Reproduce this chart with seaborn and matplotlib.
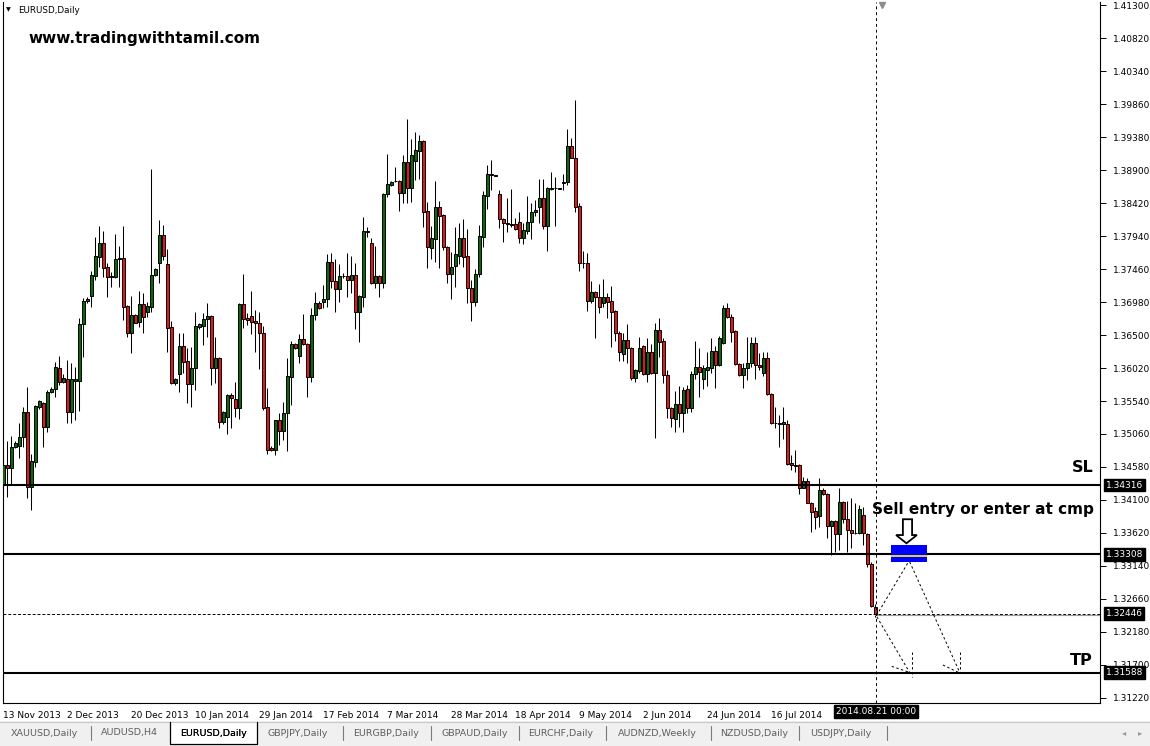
import matplotlib
matplotlib.use('Agg')
import matplotlib.pyplot as plt
from matplotlib.patches import Rectangle, Polygon
import numpy as np
import pandas as pd
import seaborn as sns

# daily EURUSD bars (with the small sunday bars), 13 Nov 2013 .. 21 Aug 2014
OPENS = [
    1.3432, 1.3461, 1.3457, 1.3487, 1.3489, 1.3502, 1.3538, 1.3429, 1.3465, 1.3545,
    1.3551, 1.3516, 1.3567, 1.3572, 1.3602, 1.3582, 1.3586, 1.3538, 1.3583, 1.3583,
    1.3666, 1.3700, 1.3707, 1.3736, 1.3764, 1.3784, 1.3749, 1.3734, 1.3734, 1.3761,
    1.3762, 1.3692, 1.3653, 1.3679, 1.3669, 1.3695, 1.3684, 1.3691, 1.3737, 1.3755,
    1.3796, 1.3753, 1.3662, 1.3580, 1.3593, 1.3634, 1.3612, 1.3579, 1.3602, 1.3662,
    1.3663, 1.3673, 1.3678, 1.3602, 1.3617, 1.3523, 1.3531, 1.3563, 1.3557, 1.3544,
    1.3695, 1.3675, 1.3678, 1.3670, 1.3668, 1.3653, 1.3545, 1.3486, 1.3483, 1.3526,
    1.3510, 1.3537, 1.3589, 1.3637, 1.3620, 1.3644, 1.3637, 1.3589, 1.3679, 1.3697,
    1.3698, 1.3702, 1.3756, 1.3728, 1.3717, 1.3736, 1.3736, 1.3730, 1.3737, 1.3684,
    1.3705, 1.3801, 1.3784, 1.3726, 1.3736, 1.3726, 1.3855, 1.3868, 1.3874, 1.3874,
    1.3857, 1.3902, 1.3864, 1.3903, 1.3918, 1.3932, 1.3830, 1.3777, 1.3790, 1.3836,
    1.3825, 1.3778, 1.3739, 1.3750, 1.3765, 1.3791, 1.3765, 1.3718, 1.3698, 1.3739,
    1.3793, 1.3852, 1.3883, 1.3883, 1.3855, 1.3819, 1.3813, 1.3812, 1.3812, 1.3815,
    1.3791, 1.3801, 1.3815, 1.3829, 1.3836, 1.3849, 1.3809, 1.3863, 1.3864, 1.3864,
    1.3871, 1.3873, 1.3925, 1.3908, 1.3838, 1.3755, 1.3755, 1.3700, 1.3713, 1.3705,
    1.3697, 1.3705, 1.3700, 1.3685, 1.3653, 1.3622, 1.3643, 1.3631, 1.3588, 1.3598,
    1.3634, 1.3593, 1.3625, 1.3595, 1.3657, 1.3641, 1.3592, 1.3544, 1.3528, 1.3550,
    1.3537, 1.3572, 1.3544, 1.3593, 1.3604, 1.3586, 1.3599, 1.3602, 1.3627, 1.3606,
    1.3638, 1.3689, 1.3676, 1.3656, 1.3608, 1.3592, 1.3602, 1.3609, 1.3638, 1.3606,
    1.3595, 1.3617, 1.3564, 1.3522, 1.3522, 1.3521, 1.3521, 1.3464, 1.3461, 1.3461,
    1.3428, 1.3438, 1.3406, 1.3394, 1.3387, 1.3425, 1.3419, 1.3372, 1.3380, 1.3361,
    1.3407, 1.3383, 1.3366, 1.3362, 1.3362, 1.3388, 1.3361, 1.3317, 1.3255,
]
HIGHS = [
    1.3468, 1.3496, 1.3503, 1.3496, 1.3522, 1.3545, 1.3574, 1.3477, 1.3548, 1.3555,
    1.3553, 1.3570, 1.3575, 1.3611, 1.3620, 1.3593, 1.3614, 1.3609, 1.3604, 1.3675,
    1.3704, 1.3705, 1.3743, 1.3793, 1.3809, 1.3801, 1.3755, 1.3742, 1.3797, 1.3780,
    1.3809, 1.3693, 1.3707, 1.3680, 1.3714, 1.3711, 1.3698, 1.3891, 1.3748, 1.3817,
    1.3810, 1.3775, 1.3670, 1.3587, 1.3653, 1.3653, 1.3631, 1.3633, 1.3684, 1.3668,
    1.3682, 1.3697, 1.3679, 1.3647, 1.3618, 1.3540, 1.3564, 1.3566, 1.3582, 1.3696,
    1.3739, 1.3682, 1.3714, 1.3686, 1.3684, 1.3663, 1.3573, 1.3489, 1.3527, 1.3537,
    1.3553, 1.3617, 1.3641, 1.3638, 1.3652, 1.3681, 1.3638, 1.3689, 1.3713, 1.3699,
    1.3723, 1.3768, 1.3769, 1.3761, 1.3753, 1.3740, 1.3769, 1.3765, 1.3755, 1.3708,
    1.3822, 1.3807, 1.3791, 1.3780, 1.3737, 1.3856, 1.3913, 1.3874, 1.3894, 1.3876,
    1.3912, 1.3964, 1.3935, 1.3945, 1.3941, 1.3933, 1.3843, 1.3809, 1.3874, 1.3845,
    1.3826, 1.3779, 1.3771, 1.3807, 1.3813, 1.3819, 1.3804, 1.3730, 1.3746, 1.3810,
    1.3860, 1.3897, 1.3905, 1.3883, 1.3861, 1.3820, 1.3849, 1.3862, 1.3820, 1.3829,
    1.3813, 1.3852, 1.3842, 1.3846, 1.3877, 1.3877, 1.3865, 1.3887, 1.3880, 1.3864,
    1.3884, 1.3950, 1.3937, 1.3992, 1.3842, 1.3772, 1.3769, 1.3728, 1.3714, 1.3724,
    1.3732, 1.3711, 1.3721, 1.3686, 1.3656, 1.3653, 1.3666, 1.3632, 1.3600, 1.3647,
    1.3635, 1.3646, 1.3637, 1.3668, 1.3675, 1.3646, 1.3599, 1.3545, 1.3569, 1.3576,
    1.3574, 1.3577, 1.3598, 1.3641, 1.3631, 1.3606, 1.3625, 1.3646, 1.3634, 1.3649,
    1.3694, 1.3697, 1.3681, 1.3657, 1.3609, 1.3609, 1.3647, 1.3647, 1.3647, 1.3624,
    1.3625, 1.3625, 1.3565, 1.3545, 1.3534, 1.3545, 1.3526, 1.3475, 1.3483, 1.3462,
    1.3444, 1.3442, 1.3407, 1.3400, 1.3442, 1.3428, 1.3420, 1.3381, 1.3381, 1.3428,
    1.3409, 1.3409, 1.3413, 1.3406, 1.3403, 1.3400, 1.3362, 1.3320, 1.3258,
]
LOWS = [
    1.3425, 1.3414, 1.3432, 1.3486, 1.3471, 1.3487, 1.3413, 1.3396, 1.3458, 1.3542,
    1.3487, 1.3509, 1.3566, 1.3560, 1.3577, 1.3580, 1.3522, 1.3522, 1.3526, 1.3540,
    1.3618, 1.3697, 1.3691, 1.3730, 1.3749, 1.3734, 1.3705, 1.3720, 1.3733, 1.3720,
    1.3672, 1.3647, 1.3624, 1.3668, 1.3662, 1.3653, 1.3676, 1.3684, 1.3736, 1.3726,
    1.3759, 1.3625, 1.3579, 1.3578, 1.3567, 1.3595, 1.3551, 1.3545, 1.3570, 1.3659,
    1.3636, 1.3647, 1.3577, 1.3580, 1.3515, 1.3521, 1.3506, 1.3515, 1.3531, 1.3528,
    1.3660, 1.3665, 1.3652, 1.3625, 1.3601, 1.3541, 1.3477, 1.3481, 1.3476, 1.3490,
    1.3497, 1.3481, 1.3548, 1.3630, 1.3609, 1.3636, 1.3560, 1.3582, 1.3672, 1.3688,
    1.3689, 1.3691, 1.3718, 1.3684, 1.3698, 1.3733, 1.3705, 1.3711, 1.3659, 1.3640,
    1.3691, 1.3793, 1.3724, 1.3718, 1.3705, 1.3718, 1.3851, 1.3867, 1.3873, 1.3830,
    1.3842, 1.3842, 1.3844, 1.3876, 1.3877, 1.3807, 1.3748, 1.3761, 1.3756, 1.3748,
    1.3774, 1.3726, 1.3702, 1.3720, 1.3753, 1.3749, 1.3697, 1.3670, 1.3692, 1.3734,
    1.3778, 1.3833, 1.3861, 1.3882, 1.3806, 1.3786, 1.3800, 1.3807, 1.3803, 1.3784,
    1.3782, 1.3797, 1.3790, 1.3823, 1.3813, 1.3804, 1.3772, 1.3861, 1.3809, 1.3863,
    1.3861, 1.3868, 1.3907, 1.3829, 1.3743, 1.3748, 1.3685, 1.3697, 1.3646, 1.3682,
    1.3691, 1.3675, 1.3633, 1.3641, 1.3612, 1.3612, 1.3609, 1.3585, 1.3582, 1.3595,
    1.3592, 1.3582, 1.3593, 1.3500, 1.3618, 1.3580, 1.3529, 1.3516, 1.3509, 1.3516,
    1.3509, 1.3537, 1.3538, 1.3586, 1.3560, 1.3572, 1.3576, 1.3595, 1.3573, 1.3605,
    1.3637, 1.3675, 1.3640, 1.3606, 1.3590, 1.3573, 1.3585, 1.3604, 1.3586, 1.3599,
    1.3590, 1.3563, 1.3521, 1.3515, 1.3487, 1.3499, 1.3461, 1.3454, 1.3451, 1.3419,
    1.3427, 1.3405, 1.3364, 1.3368, 1.3370, 1.3417, 1.3355, 1.3330, 1.3334, 1.3337,
    1.3377, 1.3334, 1.3340, 1.3360, 1.3360, 1.3345, 1.3313, 1.3255, 1.3240,
]
CLOSES = [
    1.3461, 1.3457, 1.3487, 1.3493, 1.3502, 1.3538, 1.3429, 1.3467, 1.3547, 1.3554,
    1.3516, 1.3567, 1.3572, 1.3604, 1.3582, 1.3588, 1.3538, 1.3586, 1.3586, 1.3666,
    1.3700, 1.3702, 1.3737, 1.3765, 1.3784, 1.3748, 1.3734, 1.3736, 1.3761, 1.3762,
    1.3691, 1.3653, 1.3679, 1.3668, 1.3695, 1.3676, 1.3692, 1.3737, 1.3746, 1.3796,
    1.3765, 1.3660, 1.3580, 1.3586, 1.3634, 1.3611, 1.3579, 1.3602, 1.3663, 1.3666,
    1.3673, 1.3678, 1.3602, 1.3617, 1.3523, 1.3538, 1.3563, 1.3558, 1.3544, 1.3695,
    1.3673, 1.3672, 1.3669, 1.3667, 1.3653, 1.3544, 1.3483, 1.3482, 1.3526, 1.3510,
    1.3537, 1.3590, 1.3637, 1.3631, 1.3644, 1.3637, 1.3589, 1.3679, 1.3697, 1.3689,
    1.3702, 1.3756, 1.3728, 1.3717, 1.3736, 1.3736, 1.3730, 1.3737, 1.3684, 1.3707,
    1.3801, 1.3800, 1.3726, 1.3736, 1.3726, 1.3855, 1.3870, 1.3873, 1.3874, 1.3857,
    1.3902, 1.3864, 1.3912, 1.3919, 1.3932, 1.3829, 1.3778, 1.3791, 1.3836, 1.3823,
    1.3778, 1.3739, 1.3749, 1.3768, 1.3791, 1.3764, 1.3718, 1.3698, 1.3739, 1.3794,
    1.3854, 1.3884, 1.3884, 1.3882, 1.3819, 1.3813, 1.3812, 1.3810, 1.3804, 1.3791,
    1.3803, 1.3815, 1.3829, 1.3832, 1.3849, 1.3809, 1.3864, 1.3864, 1.3864, 1.3863,
    1.3873, 1.3925, 1.3908, 1.3836, 1.3755, 1.3755, 1.3700, 1.3713, 1.3705, 1.3691,
    1.3705, 1.3698, 1.3684, 1.3653, 1.3625, 1.3643, 1.3631, 1.3588, 1.3599, 1.3631,
    1.3593, 1.3625, 1.3595, 1.3657, 1.3640, 1.3592, 1.3544, 1.3529, 1.3550, 1.3537,
    1.3570, 1.3544, 1.3593, 1.3604, 1.3596, 1.3602, 1.3604, 1.3627, 1.3606, 1.3646,
    1.3689, 1.3676, 1.3654, 1.3608, 1.3592, 1.3602, 1.3609, 1.3638, 1.3606, 1.3604,
    1.3617, 1.3564, 1.3522, 1.3522, 1.3521, 1.3523, 1.3462, 1.3461, 1.3460, 1.3428,
    1.3438, 1.3406, 1.3393, 1.3385, 1.3425, 1.3419, 1.3372, 1.3380, 1.3361, 1.3407,
    1.3383, 1.3366, 1.3362, 1.3362, 1.3397, 1.3362, 1.3317, 1.3256, 1.32446,
]

DATE_LABELS = ['13 Nov 2013', '2 Dec 2013', '20 Dec 2013', '10 Jan 2014', '29 Jan 2014',
               '17 Feb 2014', '7 Mar 2014', '28 Mar 2014', '18 Apr 2014', '9 May 2014',
               '2 Jun 2014', '24 Jun 2014', '16 Jul 2014']
PRICE_TICKS = [1.31220, 1.31700, 1.32180, 1.32660, 1.33140, 1.33620, 1.34100, 1.34580,
               1.35060, 1.35540, 1.36020, 1.36500, 1.36980, 1.37460, 1.37940, 1.38420,
               1.38900, 1.39380, 1.39860, 1.40340, 1.40820, 1.41300]
SL_PRICE = 1.34316
ENTRY_PRICE = 1.33308
BID_PRICE = 1.32446
TP_PRICE = 1.31588
CURSOR_LABEL = '2014.08.21 00:00'

TABS = ['XAUUSD,Daily', 'AUDUSD,H4', 'EURUSD,Daily', 'GBPJPY,Daily', 'EURGBP,Daily',
        'GBPAUD,Daily', 'EURCHF,Daily', 'AUDNZD,Weekly', 'NZDUSD,Daily', 'USDJPY,Daily']
ACTIVE_TAB = 'EURUSD,Daily'

BULL = '#0a6a0a'
BEAR = '#e8141a'
W, H = 1150, 746


def draw_candles(ax, df):
    '''wicks plus bodies'''
    up = df['close'] >= df['open']
    colors = np.where(up, BULL, BEAR)
    ax.vlines(df['bar'], df['low'], df['high'], color='black', lw=0.75, zorder=2)
    body_lo = df[['open', 'close']].min(axis=1)
    body_h = (df['close'] - df['open']).abs()
    ax.bar(df['bar'], body_h, bottom=body_lo, width=0.72, color=colors,
           edgecolor='black', linewidth=0.7, zorder=3)


def draw_levels(ax, last_bar):
    '''SL / entry / TP lines, bid line, cursor and price boxes'''
    for p in (SL_PRICE, ENTRY_PRICE, TP_PRICE):
        ax.axhline(p, color='black', lw=1.5, zorder=4)
    ax.axhline(BID_PRICE, color='black', lw=0.7, ls=(0, (3, 2)), zorder=4)
    ax.plot([last_bar, 280], [BID_PRICE - 0.00018] * 2, color='#9a9a9a', lw=0.8, zorder=4)
    ax.axvline(last_bar + 0.2, color='black', lw=0.7, ls=(0, (3, 3)), zorder=4)
    ax.plot([last_bar + 1.6], [1.4130], marker='v', color='#8c8c8c', ms=4, clip_on=False)

    for p in (SL_PRICE, ENTRY_PRICE, BID_PRICE, TP_PRICE):
        ax.annotate(f'{p:.5f}', xy=(1.0, p), xycoords=('axes fraction', 'data'),
                    xytext=(4, 0), textcoords='offset points', ha='left', va='center',
                    color='white', fontsize=6.5, zorder=6,
                    bbox=dict(boxstyle='square,pad=0.2', fc='black', ec='black'))
    ax.annotate(CURSOR_LABEL, xy=(last_bar + 0.2, 0), xycoords=('data', 'axes fraction'),
                xytext=(0, -6), textcoords='offset points', ha='center', va='center',
                color='white', fontsize=6.5,
                bbox=dict(boxstyle='square,pad=0.25', fc='black', ec='black'))


def draw_trade_sketch(ax, last_bar):
    '''blue entry box, hollow arrow and dashed projections'''
    ax.add_patch(Rectangle((221.9, 1.3320), 9.0, 0.00248, fc='#0000ff', ec='none', zorder=5))
    ax.plot([221.9, 230.9], [1.3329, 1.3329], color='#ffff00', lw=1.2, zorder=6)
    arrow = [(224.9, 1.3382), (227.2, 1.3382), (227.2, 1.3359), (228.4, 1.3359),
             (225.8, 1.3347), (223.2, 1.3359), (224.9, 1.3359)]
    ax.add_patch(Polygon(arrow, closed=True, fc='white', ec='black', lw=1.3, zorder=6))
    dash = dict(color='black', lw=0.7, ls=(0, (2.5, 2.5)), zorder=5)
    ax.plot([last_bar + 0.3, 226.3], [1.3242, 1.3320], **dash)
    ax.plot([226.6, 239.2], [1.3320, 1.3158], **dash)
    ax.plot([last_bar + 0.4, 226.7], [1.3240, 1.3158], **dash)
    # little arrow heads at the ends
    ax.plot([222.1, 226.7], [1.3168, 1.3159], **dash)
    ax.plot([227.2, 227.2], [1.3189, 1.3152], **dash)
    ax.plot([234.9, 239.2], [1.3170, 1.3158], **dash)
    ax.plot([239.2, 239.2], [1.3189, 1.3158], **dash)


def draw_tabs(fig):
    '''MT4 style chart tabs at the bottom'''
    tab_ax = fig.add_axes([0, 0, 1, 25 / H])
    tab_ax.set_xlim(0, W)
    tab_ax.set_ylim(746, 721)
    tab_ax.axis('off')
    tab_ax.add_patch(Rectangle((0, 721), W, 25, fc='#f0f0f0', ec='none'))
    tab_ax.plot([0, W], [721.5, 721.5], color='#c8c8c8', lw=0.8)
    left = [11, 101, 180, 267, 353, 441, 528, 618, 720, 810]
    seps = [91, 343, 431, 519, 606, 711, 799, 887]
    for name, x in zip(TABS, left):
        active = name == ACTIVE_TAB
        tab_ax.text(x, 733, name, fontsize=6.8, va='center', ha='left',
                    color='black' if active else '#5f5f5f')
    for x in seps:
        tab_ax.plot([x, x], [726, 740], color='#7a7a7a', lw=0.8)
    tab_ax.add_patch(Rectangle((170, 722), 87, 22, fc='white', ec='none'))
    tab_ax.plot([170, 170, 257, 257], [722, 744, 744, 722], color='black', lw=0.9)
    tab_ax.text(180, 733, ACTIVE_TAB, fontsize=6.8, va='center', ha='left', color='black')
    tab_ax.text(1124, 733, '\u25c2', fontsize=6, va='center', ha='center', color='#9a9a9a')
    tab_ax.text(1140, 733, '\u25b8', fontsize=6, va='center', ha='center', color='#9a9a9a')


def main():
    '''main'''
    sns.set_style('white')
    plt.rcParams['font.family'] = ['DejaVu Sans']
    plt.rcParams['text.color'] = 'black'

    price_df = pd.DataFrame({'open': OPENS, 'high': HIGHS, 'low': LOWS, 'close': CLOSES})
    price_df['bar'] = np.arange(len(price_df))
    last_bar = price_df['bar'].iloc[-1]

    fig = plt.figure(figsize=(W / 100, H / 100), dpi=100)
    ax = fig.add_axes([3 / W, 43 / H, 1097 / W, 701 / H])
    ax.set_xlim(-0.075, 274.18)
    ax.set_ylim(1.31147, 1.41344)

    draw_candles(ax, price_df)
    draw_levels(ax, last_bar)
    draw_trade_sketch(ax, last_bar)

    # axes in the terminal look
    ax.yaxis.tick_right()
    ax.set_yticks(PRICE_TICKS)
    ax.set_yticklabels([f'{p:.5f}' for p in PRICE_TICKS])
    ax.set_xticks(np.arange(len(DATE_LABELS)) * 16)
    ax.set_xticklabels(DATE_LABELS, ha='left')
    ax.tick_params(axis='y', direction='out', length=4, width=0.7, pad=5, labelsize=6.5,
                   colors='black')
    ax.tick_params(axis='x', direction='out', length=4, width=0.7, pad=2, labelsize=6.5,
                   colors='black')
    for side in ('left', 'right', 'bottom'):
        ax.spines[side].set_color('black')
        ax.spines[side].set_linewidth(0.8)
    ax.spines['top'].set_visible(False)

    ax.text(3.6, 1.41225, 'EURUSD,Daily', fontsize=6.3, va='center', ha='left')
    ax.text(1.2, 1.41225, '\u25bc', fontsize=4.5, va='center', ha='center')
    ax.text(6.2, 1.4082, 'www.tradingwithtamil.com', fontsize=11, fontweight='heavy',
            va='center', ha='left', color='black')
    ax.text(269.9, 1.34566, 'SL', fontsize=11.5, fontweight='heavy', va='center',
            ha='center', color='black')
    ax.text(269.4, 1.31759, 'TP', fontsize=11.5, fontweight='heavy', va='center',
            ha='center', color='black')
    ax.text(217.2, 1.33955, 'Sell entry or enter at cmp', fontsize=11, fontweight='heavy',
            va='center', ha='left', color='black', zorder=7)

    draw_tabs(fig)
    fig.savefig('out.png', dpi=100)


if __name__ == '__main__':
    main()
